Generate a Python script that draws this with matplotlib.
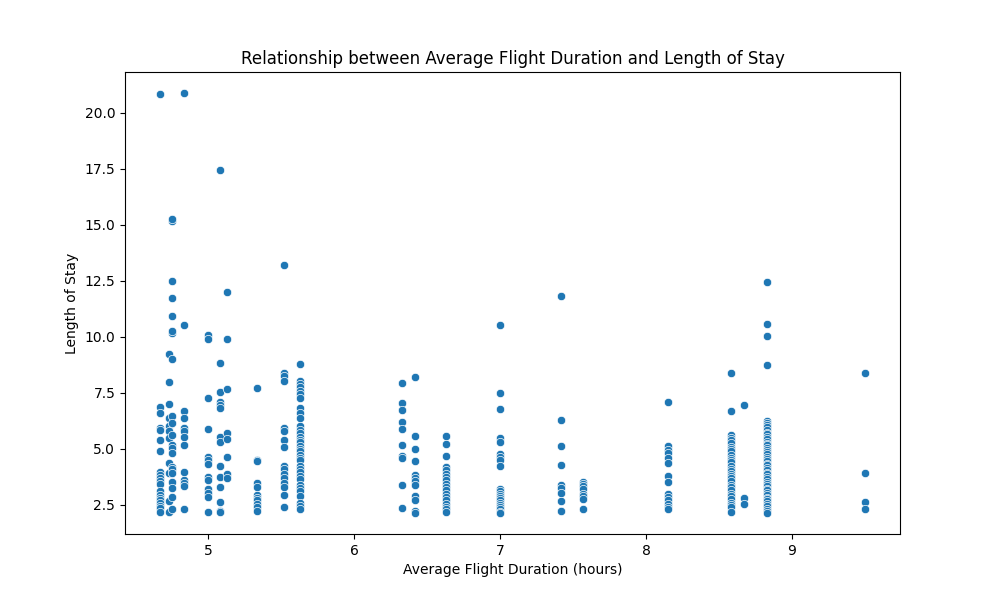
import matplotlib
matplotlib.use("Agg")
import matplotlib.pyplot as plt
import seaborn as sns
import pandas as pd

# Average flight duration (hours) per destination
durations = [4.67, 4.73, 4.75, 4.83, 5.0, 5.08, 5.13, 5.33, 5.52, 5.63,
             6.33, 6.42, 6.63, 7.0, 7.42, 7.57, 8.15, 8.58, 8.67, 8.83, 9.5]

# Length of stay values observed for each duration above
stays = [
    [20.83, 6.88, 6.6, 5.92, 5.85, 5.4, 4.92, 3.95, 3.85, 3.7, 3.55, 3.45,
     3.1, 2.95, 2.8, 2.7, 2.6, 2.45, 2.35, 2.2],
    [9.24, 7.98, 6.99, 6.37, 6.03, 5.82, 5.5, 4.36, 3.92, 2.68, 2.19],
    [15.18, 15.25, 12.49, 11.73, 10.92, 10.17, 10.25, 9.0, 6.47, 6.17, 5.62,
     5.18, 5.05, 4.83, 4.21, 4.1, 3.92, 3.54, 3.27, 2.84, 2.31],
    [20.88, 10.52, 6.7, 6.37, 5.95, 5.82, 5.52, 5.17, 3.96, 3.62, 3.5, 3.36, 2.31],
    [10.09, 9.9, 7.26, 5.89, 4.66, 4.5, 4.32, 3.76, 3.62, 3.2, 3.05, 2.84, 2.17],
    [17.44, 8.83, 7.53, 7.11, 6.95, 6.82, 5.52, 5.3, 4.24, 3.74, 3.29, 2.62,
     2.25, 2.17],
    [11.99, 9.9, 7.66, 5.73, 5.43, 4.63, 3.87, 3.72],
    [7.71, 4.5, 4.46, 3.47, 3.29, 2.95, 2.8, 2.7, 2.55, 2.42, 2.25],
    [13.21, 8.38, 8.25, 8.05, 5.92, 5.82, 5.4, 5.1, 4.24, 4.1, 3.9, 3.7, 3.5,
     3.3, 2.95, 2.42],
    [8.78, 8.05, 7.9, 7.75, 7.6, 7.45, 7.25, 6.83, 6.6, 6.4, 6.0, 5.85, 5.7,
     5.55, 5.4, 5.3, 5.15, 5.0, 4.9, 4.75, 4.6, 4.5, 4.25, 4.1, 3.95, 3.8,
     3.65, 3.4, 3.25, 3.1, 2.9, 2.6, 2.45, 2.3],
    [7.93, 7.04, 6.74, 6.19, 5.88, 5.17, 4.69, 4.6, 3.39, 2.35],
    [8.2, 5.57, 4.99, 4.48, 3.85, 3.72, 3.55, 3.4, 2.9, 2.72, 2.25, 2.15],
    [5.58, 5.21, 4.67, 4.2, 4.05, 3.9, 3.75, 3.6, 3.45, 3.3, 3.15, 3.0, 2.85,
     2.7, 2.55, 2.4, 2.3, 2.18],
    [10.52, 7.49, 6.77, 5.47, 5.3, 4.78, 4.65, 4.5, 4.24, 3.2, 3.1, 3.0, 2.9,
     2.8, 2.7, 2.6, 2.5, 2.4, 2.3, 2.2, 2.15],
    [11.83, 6.29, 5.13, 4.29, 3.39, 3.25, 3.05, 2.68, 2.23],
    [3.54, 3.45, 3.35, 3.2, 3.0, 2.9, 2.75, 2.3],
    [7.08, 5.13, 4.95, 4.8, 4.6, 4.36, 3.81, 3.54, 3.0, 2.85, 2.7, 2.55, 2.4, 2.31],
    [8.38, 6.68, 5.6, 5.5, 5.4, 5.25, 5.1, 5.0, 4.9, 4.75, 4.6, 4.5, 4.4, 4.25,
     4.1, 4.0, 3.9, 3.8, 3.7, 3.55, 3.4, 3.3, 3.15, 3.0, 2.9, 2.75, 2.6, 2.5,
     2.4, 2.2],
    [6.96, 2.83, 2.53],
    [12.44, 10.57, 10.03, 8.74, 6.25, 6.14, 6.05, 5.97, 5.86, 5.73, 5.66,
     5.52, 5.45, 5.33, 5.24, 5.16, 5.02, 4.96, 4.84, 4.77, 4.63, 4.55, 4.44,
     4.33, 4.26, 4.13, 4.05, 3.94, 3.86, 3.74, 3.66, 3.53, 3.45, 3.36, 3.22,
     3.15, 3.04, 2.96, 2.83, 2.75, 2.66, 2.52, 2.46, 2.33, 2.25, 2.14],
    [8.38, 3.93, 2.62, 2.31],
]

rows = []
for d, vals in zip(durations, stays):
    for v in vals:
        rows.append((d, v))
df = pd.DataFrame(rows, columns=["avg_flight_duration", "length_of_stay"])

fig, ax = plt.subplots(figsize=(10, 6), dpi=100)
sns.scatterplot(data=df, x="avg_flight_duration", y="length_of_stay", ax=ax)
ax.set_title("Relationship between Average Flight Duration and Length of Stay")
ax.set_xlabel("Average Flight Duration (hours)")
ax.set_ylabel("Length of Stay")

plt.savefig("out.png")
